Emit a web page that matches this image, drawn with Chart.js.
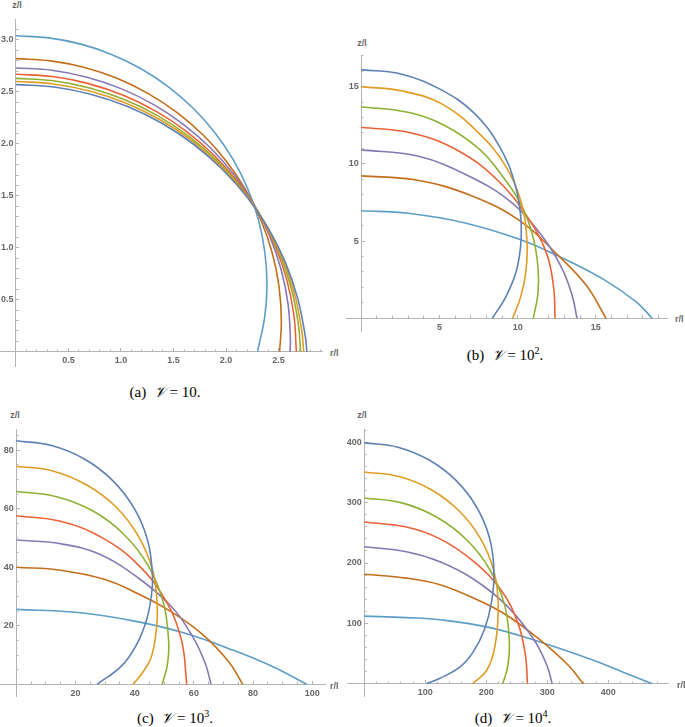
<!DOCTYPE html>
<html>
<head>
<meta charset="utf-8">
<script src="https://cdn.jsdelivr.net/npm/chart.js@4.4.1/dist/chart.umd.min.js"></script>
<style>
  body { margin: 0; background: #fff; }
  #page { position: relative; width: 685px; height: 727px; overflow: hidden; background: #fff; }
  #page canvas { position: absolute; }
  .lbl { position: absolute; font: bold 9px 'Liberation Sans', Arial, sans-serif; color: #666; white-space: nowrap; }
  .lbl.z { transform: translate(-50%, -50%); }
  .lbl.r { transform: translateY(-50%); }
  .cap { position: absolute; font: 15px 'Liberation Serif', 'Times New Roman', serif; color: #000; transform: translate(-50%, -50%); white-space: nowrap; }
  .cap .v { font-family: 'DejaVu Serif', 'DejaVu Sans', serif; font-style: italic; }
  .cap sup { font-size: 10px; vertical-align: 6px; line-height: 0; }
</style>
</head>
<body>
<div id="page">
  <canvas id="chartA"></canvas>
  <canvas id="chartB"></canvas>
  <canvas id="chartC"></canvas>
  <canvas id="chartD"></canvas>

  <div class="lbl z" style="left:17px;top:5px">z/l</div>
  <div class="lbl r" style="left:330px;top:353px">r/l</div>
  <div class="lbl z" style="left:362px;top:43px">z/l</div>
  <div class="lbl r" style="left:675px;top:319px">r/l</div>
  <div class="lbl z" style="left:15px;top:415px">z/l</div>
  <div class="lbl r" style="left:330px;top:686px">r/l</div>
  <div class="lbl z" style="left:362px;top:415px">z/l</div>
  <div class="lbl r" style="left:677px;top:685px">r/l</div>

  <div class="cap" style="left:165px;top:392px">(a)&nbsp; <span class="v">𝒱</span> = 10.</div>
  <div class="cap" style="left:505px;top:355px">(b)&nbsp; <span class="v">𝒱</span> = 10<sup>2</sup>.</div>
  <div class="cap" style="left:175px;top:718px">(c)&nbsp; <span class="v">𝒱</span> = 10<sup>3</sup>.</div>
  <div class="cap" style="left:513px;top:718px">(d)&nbsp; <span class="v">𝒱</span> = 10<sup>4</sup>.</div>
</div>

<script>
// curve order in every panel: blue, orange, green, red, purple, dark orange, light blue
const seriesColors = ['#5E81B5', '#E19C24', '#8FB032', '#EB6235', '#8778B3', '#C56E1A', '#5D9EC7'];

// (a) V = 10, points are [r/l, z/l]
const curvesA = [
  [[0,2.570],[0.363,2.546],[0.719,2.475],[1.063,2.359],[1.389,2.198],[1.691,1.996],[1.964,1.756],[2.204,1.483],[2.406,1.181],[2.567,0.855],[2.683,0.511],[2.754,0.155],[2.770,0]],
  [[0,2.600],[0.358,2.576],[0.710,2.506],[1.050,2.391],[1.372,2.232],[1.671,2.033],[1.940,1.796],[2.177,1.527],[2.376,1.228],[2.535,0.906],[2.650,0.566],[2.720,0.214],[2.740,0]],
  [[0,2.630],[0.354,2.607],[0.702,2.538],[1.037,2.424],[1.356,2.267],[1.650,2.070],[1.917,1.836],[2.151,1.569],[2.348,1.275],[2.505,0.956],[2.619,0.621],[2.688,0.273],[2.710,0]],
  [[0,2.670],[0.348,2.647],[0.691,2.579],[1.022,2.467],[1.335,2.312],[1.625,2.118],[1.888,1.888],[2.118,1.625],[2.312,1.335],[2.467,1.022],[2.579,0.691],[2.647,0.348],[2.670,0]],
  [[0,2.730],[0.341,2.708],[0.676,2.641],[1.000,2.531],[1.307,2.380],[1.591,2.190],[1.848,1.965],[2.073,1.708],[2.263,1.424],[2.414,1.117],[2.524,0.793],[2.591,0.458],[2.613,0.117],[2.610,0]],
  [[0,2.820],[0.330,2.798],[0.654,2.734],[0.967,2.628],[1.264,2.481],[1.538,2.298],[1.787,2.080],[2.005,1.831],[2.188,1.557],[2.335,1.260],[2.441,0.947],[2.505,0.623],[2.527,0.293],[2.510,0]],
  [[0,3.040],[0.312,3.019],[0.619,2.959],[0.915,2.858],[1.195,2.720],[1.455,2.546],[1.690,2.340],[1.896,2.105],[2.070,1.845],[2.208,1.565],[2.309,1.269],[2.369,0.962],[2.390,0.650],[2.369,0.338],[2.300,0]]
];
const rTicksA = [0.5, 1.0, 1.5, 2.0, 2.5];
const zTicksA = [0.5, 1.0, 1.5, 2.0, 2.5, 3.0];

// (b) V = 10^2
const curvesB = [
  [[0,16.1],[2.6,15.8],[5.0,14.85],[7.2,13.3],[8.85,11.1],[9.85,8.6],[10.23,6.0],[10.0,3.4],[9.3,1.5],[8.38,0]],
  [[0,15.0],[2.7,14.7],[5.2,13.85],[7.5,12.0],[9.2,9.9],[10.2,7.6],[10.6,5.0],[10.52,3.0],[10.2,1.4],[9.68,0]],
  [[0,13.7],[2.9,13.35],[5.3,12.5],[7.6,10.9],[9.1,9.1],[10.2,7.4],[10.95,5.4],[11.3,3.3],[11.3,1.6],[11.0,0]],
  [[0,12.37],[3.2,12.0],[6.2,10.85],[8.75,8.9],[10.7,6.45],[11.85,4.2],[12.3,2.0],[12.39,0]],
  [[0,10.9],[3.6,10.5],[6.9,9.2],[9.6,7.5],[11.5,5.4],[12.8,3.3],[13.45,1.6],[13.8,0]],
  [[0,9.22],[3.5,8.95],[7.0,7.95],[10.15,6.3],[12.66,4.0],[14.41,2.1],[15.65,0]],
  [[0,6.96],[3.0,6.8],[6.5,6.2],[10.15,5.1],[12.66,4.0],[15.47,2.53],[17.6,1.04],[18.6,0]]
];
const rTicksB = [5, 10, 15];
const zTicksB = [5, 10, 15];

// (c) V = 10^3
const curvesC = [
  [[0,83.2],[11.9,81.6],[23.0,77.0],[32.5,69.7],[39.8,60.2],[44.4,49.1],[46.0,37.2],[45.6,30],[44.0,22],[40.6,13.5],[35.5,6.2],[27.3,0]],
  [[0,74.5],[12.3,72.9],[23.8,68.1],[33.7,60.6],[41.2,50.7],[46.0,39.2],[47.6,27.5],[47.2,17.5],[45.5,9.0],[42.5,3.8],[39.5,0]],
  [[0,65.9],[13.3,64.2],[25.8,59.3],[36.4,51.2],[44.6,40.5],[49.7,27.9],[51.5,14.4],[51.0,6.5],[49.3,0]],
  [[0,57.6],[14.9,55.7],[28.8,50.2],[41.0,41.0],[50.2,29.1],[55.8,15.1],[57.6,0]],
  [[0,49.3],[15,48.0],[28,44.5],[41,36.5],[52,27],[59.3,16.8],[63.8,7.3],[65.8,0]],
  [[0,40],[15,39.0],[30,35.8],[41,31],[52,25],[63,17],[71.7,7.8],[76.5,0]],
  [[0,25.6],[20,24.6],[40,21.6],[56.5,17.6],[73.4,11.6],[86.9,5.9],[98.1,0]]
];
const rTicksC = [20, 40, 60, 80, 100];
const zTicksC = [20, 40, 60, 80];

// (d) V = 10^4
const curvesD = [
  [[0,399],[55.0,391.8],[106.3,370.5],[150.3,336.8],[184.0,292.8],[205.3,241.5],[212.5,186.5],[208.5,135],[197,90],[178,52],[157,28],[124,9],[102,0]],
  [[0,350.8],[56.8,343.3],[109.8,321.4],[155.2,286.5],[190.1,241.1],[212.0,188.1],[219.5,131.3],[214,61],[200.5,21.9],[177.5,0]],
  [[0,307.7],[61.6,299.6],[118.9,275.8],[168.2,238.1],[205.9,188.8],[229.7,131.5],[237.8,69.9],[235,28],[226.9,0]],
  [[0,267.8],[69,259.6],[124,240],[178.7,203],[225,154],[252,100],[264,48],[267.5,0]],
  [[0,226.8],[69,218.6],[124,202],[178.7,173.5],[233.4,129.5],[277,75],[299,31.5],[308,0]],
  [[0,181.4],[69,175],[124,164],[178.7,142],[233.4,113.5],[288,72.5],[334,31],[359,0]],
  [[0,112],[69,109.5],[124,106],[206,93],[288,69.3],[370,41],[424.6,19.2],[472,0]]
];
const rTicksD = [100, 200, 300, 400];
const zTicksD = [100, 200, 300, 400];

const axisGray = '#b4b4b4';
const tickFont = { family: "'Liberation Sans', Arial, sans-serif", size: 9, weight: 'bold' };
const pad = { left: 14, right: 4, top: 4, bottom: 4 };

function axisScales(axis, range, majors, minorStep, digits) {
  const other = axis === 'x' ? 'y' : 'x';
  const main = {
    type: 'linear', axis: axis, min: range[0], max: range[1],
    position: { [other]: 0 },
    border: { display: true, color: axisGray, width: 1 },
    grid: { drawOnChartArea: false, drawTicks: true, tickLength: -4, tickColor: axisGray, tickWidth: 1 },
    ticks: {
      font: tickFont, color: '#666', padding: axis === 'x' ? 7.8 : 0,
      autoSkip: false, maxRotation: 0,
      callback: v => axis === 'x' ? v.toFixed(digits) : v.toFixed(digits) + ' '
    },
    afterBuildTicks: s => { s.ticks = majors.map(v => ({ value: v })); }
  };
  const minor = {
    type: 'linear', axis: axis, min: range[0], max: range[1],
    position: { [other]: 0 },
    border: { display: false },
    grid: { drawOnChartArea: false, drawTicks: true, tickLength: -2.5, tickColor: axisGray, tickWidth: 1 },
    ticks: { display: false, stepSize: minorStep, includeBounds: false },
    afterBuildTicks: s => { s.ticks = s.ticks.filter(t => t.value > 1e-6); }
  };
  return [main, minor];
}

function drawPanel(id, box, curves, rTicks, zTicks, minorR, minorZ, digits) {
  const canvas = document.getElementById(id);
  canvas.width = box.w + pad.left + pad.right;
  canvas.height = box.h + pad.top + pad.bottom;
  canvas.style.left = (box.x - pad.left) + 'px';
  canvas.style.top = (box.y - pad.top) + 'px';

  const [x, xMinor] = axisScales('x', box.r, rTicks, minorR, digits);
  const [y, yMinor] = axisScales('y', box.z, zTicks, minorZ, digits);

  new Chart(canvas, {
    type: 'scatter',
    data: {
      datasets: curves.map((pts, i) => ({
        data: pts.map(p => ({ x: p[0], y: p[1] })),
        showLine: true,
        borderColor: seriesColors[i],
        borderWidth: 1.6,
        pointRadius: 0,
        tension: 0.4,
        fill: false
      }))
    },
    options: {
      responsive: false,
      animation: false,
      events: [],
      layout: { padding: pad },
      plugins: { legend: { display: false }, tooltip: { enabled: false } },
      scales: { x: x, xMinor: xMinor, y: y, yMinor: yMinor }
    }
  });
}

drawPanel('chartA', { x: 0, y: 18, w: 322, h: 350, r: [-0.152, 2.914], z: [-0.143, 3.197] },
  curvesA, rTicksA, zTicksA, 0.1, 0.1, 1);
drawPanel('chartB', { x: 346, y: 54, w: 321, h: 279, r: [-0.978, 19.55], z: [-0.865, 17.02] },
  curvesB, rTicksB, zTicksB, 1, 1, 0);
drawPanel('chartC', { x: 0, y: 428, w: 325, h: 270, r: [-5.5, 104.3], z: [-4.2, 87.1] },
  curvesC, rTicksC, zTicksC, 5, 5, 0);
drawPanel('chartD', { x: 347, y: 428, w: 321, h: 270, r: [-28.4, 497.9], z: [-21.3, 421.3] },
  curvesD, rTicksD, zTicksD, 20, 20, 0);
</script>
</body>
</html>
